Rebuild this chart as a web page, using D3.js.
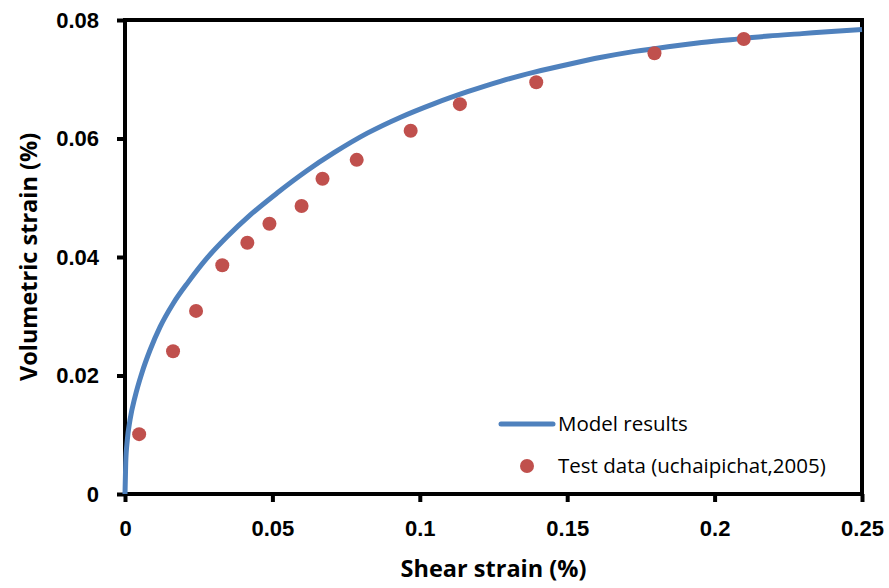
<!DOCTYPE html>
<html>
<head>
<meta charset="utf-8">
<script src="https://cdn.jsdelivr.net/npm/d3@7.9.0/dist/d3.min.js"></script>
<style>
  body { margin: 0; background: #fff; }
  svg { display: block; font-family: 'Open Sans', sans-serif; }
</style>
</head>
<body>
<div id="chart"></div>
<script>
// Model curve (shear strain %, volumetric strain %)
const modelX = [0, 0.00024, 0.00078, 0.0017, 0.0034, 0.0057, 0.0085, 0.0119, 0.0164, 0.0215, 0.0278,
  0.0346, 0.0425, 0.0516, 0.0618, 0.0709, 0.0822, 0.0935, 0.1049, 0.1162, 0.1276, 0.1389, 0.1502,
  0.1616, 0.1729, 0.1842, 0.1956, 0.2100, 0.2183, 0.2296, 0.2409, 0.25];
const modelY = [0, 0.0052, 0.0091, 0.0125, 0.0164, 0.0204, 0.0243, 0.0282, 0.0322, 0.0358, 0.0398,
  0.0434, 0.0471, 0.0508, 0.0546, 0.0576, 0.0609, 0.0636, 0.0659, 0.0679, 0.0697, 0.0712, 0.0725,
  0.0737, 0.0747, 0.0755, 0.0762, 0.0769, 0.0773, 0.0777, 0.0781, 0.0784];

// Test data (uchaipichat, 2005)
const testX = [0.0048, 0.0163, 0.0241, 0.0330, 0.0415, 0.0490, 0.0599, 0.0670, 0.0786, 0.0969, 0.1136, 0.1395, 0.1796, 0.2099];
const testY = [0.0101, 0.0241, 0.0309, 0.0386, 0.0424, 0.0456, 0.0486, 0.0532, 0.0564, 0.0613, 0.0658, 0.0695, 0.0744, 0.0768];

const xTicks = [0, 0.05, 0.1, 0.15, 0.2, 0.25];
const yTicks = [0, 0.02, 0.04, 0.06, 0.08];
const seriesNames = ['Model results', 'Test data (uchaipichat,2005)'];

const width = 889, height = 588;
const margin = { top: 20, right: 27, bottom: 94, left: 125 };

const svg = d3.select('#chart').append('svg')
  .attr('width', width)
  .attr('height', height);

const x = d3.scaleLinear().domain([0, 0.25]).range([margin.left, width - margin.right]);
const y = d3.scaleLinear().domain([0, 0.08]).range([height - margin.bottom, margin.top]);

// frame
svg.append('rect')
  .attr('x', x(0)).attr('y', y(0.08))
  .attr('width', x(0.25) - x(0)).attr('height', y(0) - y(0.08))
  .attr('fill', 'none').attr('stroke', '#000').attr('stroke-width', 4);

const fmt = d => d === 0 ? '0' : String(+d.toFixed(2));

const xAxis = svg.append('g')
  .attr('transform', `translate(0,${y(0)})`)
  .call(d3.axisBottom(x).tickValues(xTicks).tickFormat(fmt).tickSize(8).tickPadding(18));

const yAxis = svg.append('g')
  .attr('transform', `translate(${x(0)},0)`)
  .call(d3.axisLeft(y).tickValues(yTicks).tickFormat(fmt).tickSize(8).tickPadding(18));

[xAxis, yAxis].forEach(g => {
  g.select('.domain').remove();
  g.selectAll('.tick line').attr('stroke', '#000').attr('stroke-width', 4);
  g.selectAll('.tick text')
    .attr('fill', '#000')
    .style('font-size', '22px')
    .style('font-weight', 'bold');
});

// model curve
const modelData = modelX.map((v, i) => [v, modelY[i]]);
svg.append('path')
  .datum(modelData)
  .attr('fill', 'none')
  .attr('stroke', '#4f81bd')
  .attr('stroke-width', 5)
  .attr('d', d3.line().x(d => x(d[0])).y(d => y(d[1])).curve(d3.curveMonotoneX));

// test points
svg.append('g').selectAll('circle')
  .data(testX.map((v, i) => [v, testY[i]]))
  .join('circle')
  .attr('cx', d => x(d[0]))
  .attr('cy', d => y(d[1]))
  .attr('r', 7)
  .attr('fill', '#c0504d');

// legend
const leg = svg.append('g');
leg.append('line')
  .attr('x1', 501).attr('x2', 553).attr('y1', 424).attr('y2', 424)
  .attr('stroke', '#4f81bd').attr('stroke-width', 5).attr('stroke-linecap', 'round');
leg.append('circle').attr('cx', 527).attr('cy', 466).attr('r', 7).attr('fill', '#c0504d');
leg.selectAll('text')
  .data(seriesNames)
  .join('text')
  .attr('x', 558)
  .attr('y', (d, i) => 424 + i * 42)
  .attr('dy', '0.35em')
  .style('font-size', '20.5px')
  .text(d => d);

// axis titles
svg.append('text')
  .attr('x', (x(0) + x(0.25)) / 2)
  .attr('y', 577)
  .attr('text-anchor', 'middle')
  .style('font-size', '23.5px')
  .style('font-weight', 'bold')
  .text('Shear strain (%)');

svg.append('text')
  .attr('transform', `translate(37,${(y(0) + y(0.08)) / 2}) rotate(-90)`)
  .attr('text-anchor', 'middle')
  .style('font-size', '23.5px')
  .style('font-weight', 'bold')
  .text('Volumetric strain (%)');
</script>
</body>
</html>
